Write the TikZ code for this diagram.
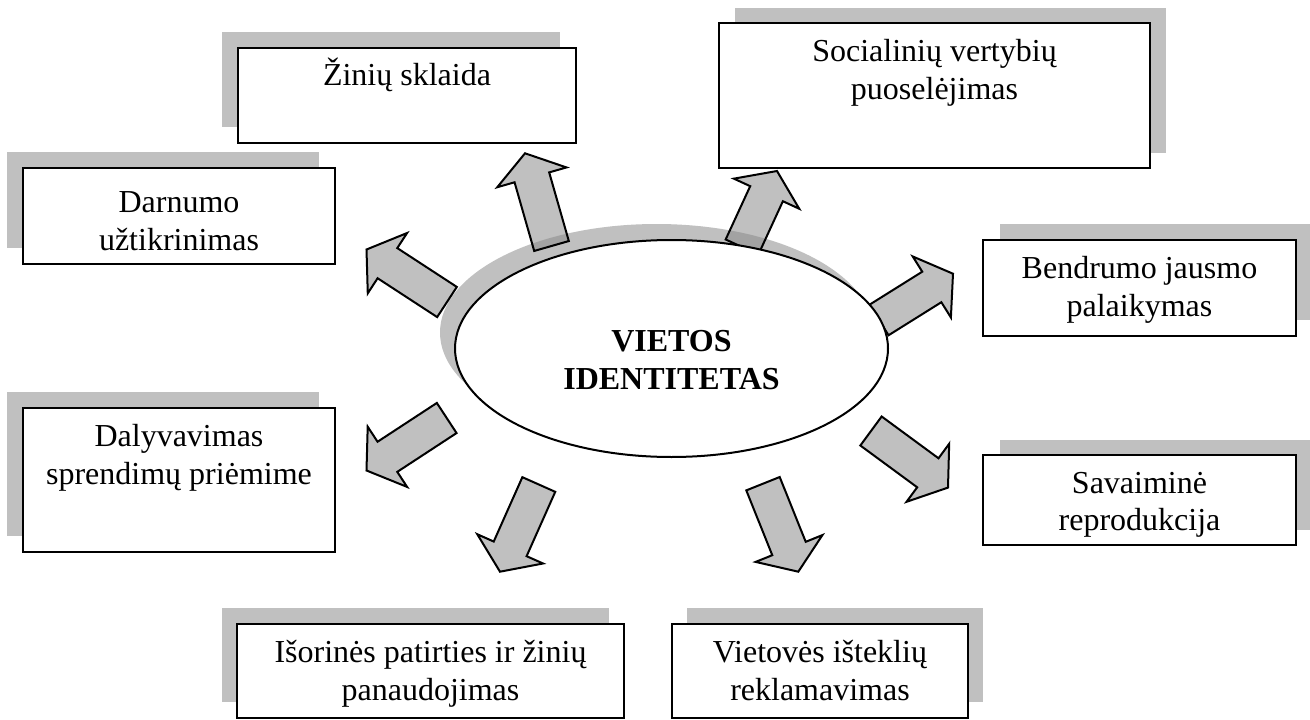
\documentclass[tikz,border=0pt]{standalone}
\usepackage{fontspec}
\setmainfont{Liberation Serif}
\usetikzlibrary{calc,shapes.geometric}
\definecolor{sgray}{HTML}{C0C0C0}
\definecolor{ogray}{HTML}{A2A2A2}

% block arrow: name, tail centre, tip
\newcommand\defarrow[3]{%
  \coordinate (#1-T) at (#2);
  \coordinate (#1-P) at (#3);
  \coordinate (#1-h) at ($(#1-P)!25pt!(#1-T)$);
  \coordinate (#1-1) at ($(#1-T)!18pt!90:(#1-P)$);
  \coordinate (#1-2) at ($(#1-h)!18pt!90:(#1-P)$);
  \coordinate (#1-3) at ($(#1-h)!36pt!90:(#1-P)$);
  \coordinate (#1-4) at (#1-P);
  \coordinate (#1-5) at ($(#1-h)!36pt!-90:(#1-P)$);
  \coordinate (#1-6) at ($(#1-h)!18pt!-90:(#1-P)$);
  \coordinate (#1-7) at ($(#1-T)!18pt!-90:(#1-P)$);
}
\newcommand\arrpath[1]{(#1-1) -- (#1-2) -- (#1-3) -- (#1-4) -- (#1-5) -- (#1-6) -- (#1-7) -- cycle}

% box: name, x1, y1, x2, y2, shadow dx, shadow dy
\newcommand\mkbox[7]{%
  \fill[sgray] ($(#2,#3)+(#6,#7)$) rectangle ($(#4,#5)+(#6,#7)$);
  \node[framebox, minimum width={(#4-#2)*1pt}, minimum height={(#5-#3)*1pt}] (#1) at ({(#2+#4)/2},{(#3+#5)/2}) {};
}

\begin{document}
\begin{tikzpicture}[x=1pt,y=-1pt,
  framebox/.style={draw, line width=2.2pt, fill=white, inner sep=0pt},
  lbl/.style={font=\fontsize{32}{38}\selectfont, inner sep=0pt, anchor=base},
  ]
\fill[white] (0,0) rectangle (1310,720);
\useasboundingbox (0,0) rectangle (1310,720);

% boxes with shadows
\mkbox{zin}{238}{48}{576}{143}{-16}{-16}
\mkbox{soc}{719}{23}{1150}{168}{16}{-15}
\mkbox{dar}{23}{168}{335}{264}{-16}{-16}
\mkbox{ben}{983}{240}{1296}{336}{17}{-16}
\mkbox{dal}{23}{408}{335}{552}{-16}{-16}
\mkbox{sav}{983}{455}{1296}{545}{17}{-15}
\mkbox{iso}{237}{624}{624}{718}{-15}{-16}
\mkbox{vie}{672}{624}{968}{718}{15}{-16}

% box texts
\node[lbl] (zin-t1) at ($(zin.north)+(0,39)$) {Žinių sklaida};
\node[lbl] (soc-t1) at ($(soc.north)+(0,40)$) {Socialinių vertybių};
\node[lbl] (soc-t2) at ($(soc.north)+(0,78)$) {puoselėjimas};
\node[lbl] (dar-t1) at ($(dar.north)+(0,46)$) {Darnumo};
\node[lbl] (dar-t2) at ($(dar.north)+(0,84)$) {užtikrinimas};
\node[lbl] (ben-t1) at ($(ben.north)+(0,40)$) {Bendrumo jausmo};
\node[lbl] (ben-t2) at ($(ben.north)+(0,78)$) {palaikymas};
\node[lbl] (dal-t1) at ($(dal.north)+(0,40)$) {Dalyvavimas};
\node[lbl] (dal-t2) at ($(dal.north)+(0,78)$) {sprendimų priėmime};
\node[lbl] (sav-t1) at ($(sav.north)+(0,40)$) {Savaiminė};
\node[lbl] (sav-t2) at ($(sav.north)+(0,77)$) {reprodukcija};
\node[lbl] (iso-t1) at ($(iso.north)+(0,40)$) {Išorinės patirties ir žinių};
\node[lbl] (iso-t2) at ($(iso.north)+(0,78)$) {panaudojimas};
\node[lbl] (vie-t1) at ($(vie.north)+(0,40)$) {Vietovės išteklių};
\node[lbl] (vie-t2) at ($(vie.north)+(0,78)$) {reklamavimas};

% ellipse shadow
\coordinate (coreshadow) at (656.5,332.5);
\fill[sgray] (coreshadow) ellipse [x radius=216.5, y radius=108.5];

% arrows
\defarrow{a1}{551.5,246}{525,153.3}
\defarrow{a2}{742,247}{777,171}
\defarrow{a3}{447,302}{366.5,249.5}
\defarrow{a4}{879,320}{953,273.7}
\defarrow{a5}{871,431}{948,487.6}
\defarrow{a6}{763,483.7}{798.3,571.7}
\defarrow{a7}{538.8,484.5}{500,571.7}
\defarrow{a8}{446.7,418}{366.5,470.5}
\foreach \a in {a1,a2,a3,a4,a5,a6,a7,a8}{
  \fill[sgray] \arrpath{\a};
}
\begin{scope}
  \clip (coreshadow) ellipse [x radius=216.5, y radius=108.5];
  \foreach \a in {a1,a2,a3,a8}{
    \fill[ogray] \arrpath{\a};
  }
\end{scope}
\foreach \a in {a1,a2,a3,a4,a5,a6,a7,a8}{
  \draw[line width=2pt, line join=miter] \arrpath{\a};
}

% centre ellipse
\node[draw, ellipse, line width=2pt, fill=white, inner sep=0pt,
      minimum width=433pt, minimum height=217pt] (core) at (671.5,348.5) {};
\node[font=\fontsize{32}{38}\selectfont\bfseries, align=center, inner sep=0pt]
  (coretext) at (671.5,360.5) {VIETOS\\IDENTITETAS};
\end{tikzpicture}
\end{document}
